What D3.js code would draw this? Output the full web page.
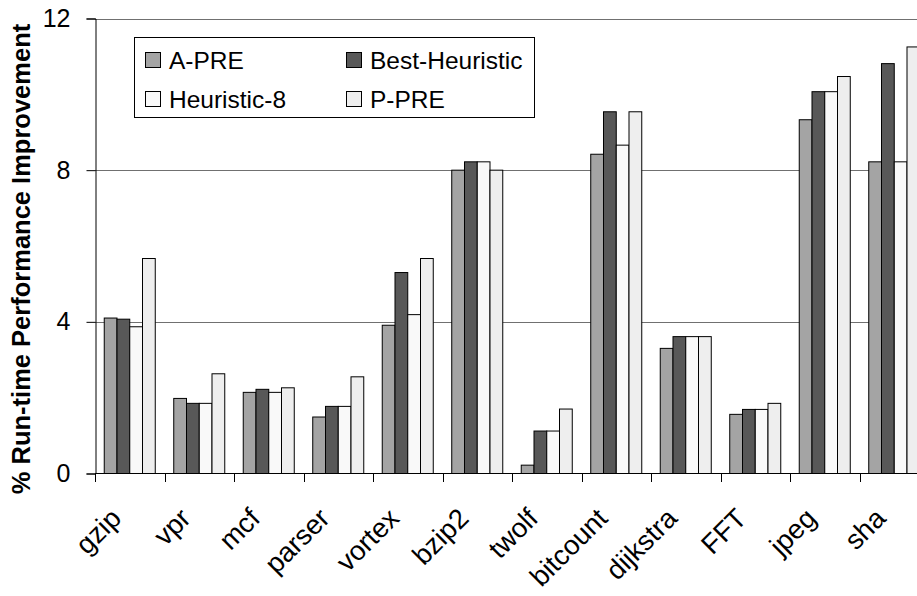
<!DOCTYPE html>
<html>
<head>
<meta charset="utf-8">
<script src="https://d3js.org/d3.v7.min.js"></script>
<style>
  body { margin: 0; background: #fff; }
  text { font-family: "Liberation Sans", Arial, sans-serif; fill: #000; }
</style>
</head>
<body>
<div id="vis"></div>
<script>
// benchmarks along the x axis
var categories = ['gzip', 'vpr', 'mcf', 'parser', 'vortex', 'bzip2', 'twolf',
                  'bitcount', 'dijkstra', 'FFT', 'jpeg', 'sha']
var seriesNames = ['A-PRE', 'Best-Heuristic', 'Heuristic-8', 'P-PRE']
var seriesColors = ['#a4a4a4', '#585858', '#f9f9f9', '#eeeeee']

// % run-time improvement
var aPre          = [4.10, 1.98, 2.14, 1.49, 3.91, 8.00, 0.22, 8.42, 3.30, 1.56, 9.33, 8.22]
var bestHeuristic = [4.07, 1.85, 2.22, 1.77, 5.30, 8.22, 1.12, 9.54, 3.61, 1.69, 10.07, 10.81]
var heuristic8    = [3.87, 1.85, 2.14, 1.77, 4.19, 8.22, 1.12, 8.66, 3.61, 1.69, 10.07, 8.22]
var pPre          = [5.67, 2.63, 2.26, 2.55, 5.67, 8.00, 1.70, 9.54, 3.61, 1.85, 10.47, 11.25]
var yTicks = [0, 4, 8, 12]

var series = [aPre, bestHeuristic, heuristic8, pPre]

var width = 917, height = 596
var svg = d3.select('#vis').append('svg')
    .attr('width', width).attr('height', height)

// plot area runs past the right edge of the picture
var x = d3.scaleBand().domain(categories).range([95, 929])
var y = d3.scaleLinear().domain([0, 12]).range([473.5, 18.5])
var bw = x.bandwidth()
var x1 = d3.scaleBand().domain(d3.range(4)).range([bw * 0.133, bw * 0.867])

// gridlines
svg.append('g').selectAll('line')
    .data(yTicks.filter(function (d) { return d > 0 }))
    .join('line')
    .attr('x1', 95).attr('x2', 929)
    .attr('y1', function (d) { return Math.round(y(d)) + 0.5 })
    .attr('y2', function (d) { return Math.round(y(d)) + 0.5 })
    .attr('stroke', '#707070').attr('stroke-width', 1)

// bars
var groups = svg.append('g').selectAll('g')
    .data(categories)
    .join('g')
    .attr('transform', function (d) { return 'translate(' + x(d) + ',0)' })

groups.selectAll('rect')
    .data(function (d, i) { return series.map(function (s, j) { return { s: j, v: s[i] } }) })
    .join('rect')
    .attr('x', function (d) { return x1(d.s) })
    .attr('width', x1.bandwidth())
    .attr('y', function (d) { return y(d.v) })
    .attr('height', function (d) { return y(0) - y(d.v) })
    .attr('fill', function (d) { return seriesColors[d.s] })
    .attr('stroke', '#000').attr('stroke-width', 1)

// y axis
var yAxis = d3.axisLeft(y).tickValues(yTicks).tickSize(9).tickPadding(16)
var gy = svg.append('g').attr('transform', 'translate(95.5,0)').call(yAxis)
gy.select('.domain').attr('stroke', '#000')
gy.selectAll('text').style('font-size', '25px')
    .style('font-family', '"Liberation Sans", Arial, sans-serif')

// x axis: ticks between categories, below the baseline
svg.append('line')
    .attr('x1', 95).attr('x2', 929)
    .attr('y1', 473.5).attr('y2', 473.5)
    .attr('stroke', '#000')
svg.append('g').selectAll('line')
    .data(categories)
    .join('line')
    .attr('x1', function (d) { return Math.round(x(d)) + 0.5 })
    .attr('x2', function (d) { return Math.round(x(d)) + 0.5 })
    .attr('y1', 473.5).attr('y2', 482)
    .attr('stroke', '#000')

svg.append('g').selectAll('text')
    .data(categories)
    .join('text')
    .attr('text-anchor', 'end')
    .attr('transform', function (d) {
        return 'translate(' + (x(d) + bw / 2 - 7) + ',520) rotate(-45)'
    })
    .style('font-size', '27.5px')
    .text(function (d) { return d })

// y axis title
svg.append('text')
    .attr('transform', 'translate(30,259) rotate(-90)')
    .attr('text-anchor', 'middle')
    .style('font-size', '25.5px').style('font-weight', 'bold')
    .text('% Run-time Performance Improvement')

// legend
var legend = svg.append('g')
legend.append('rect')
    .attr('x', 134.5).attr('y', 37.5).attr('width', 400).attr('height', 80)
    .attr('fill', '#fff').attr('stroke', '#000')
var legItems = legend.selectAll('g.item')
    .data(seriesNames)
    .join('g')
    .attr('class', 'item')
    .attr('transform', function (d, i) {
        return 'translate(' + (i % 2 === 0 ? 145 : 346) + ',' + (i < 2 ? 52 : 91) + ')'
    })
legItems.append('rect')
    .attr('x', 0.5).attr('y', 0.5).attr('width', 15).attr('height', 15)
    .attr('fill', function (d, i) { return seriesColors[i] })
    .attr('stroke', '#000')
legItems.append('text')
    .attr('x', 24).attr('y', 17)
    .style('font-size', '24.5px')
    .text(function (d) { return d })
</script>
</body>
</html>
